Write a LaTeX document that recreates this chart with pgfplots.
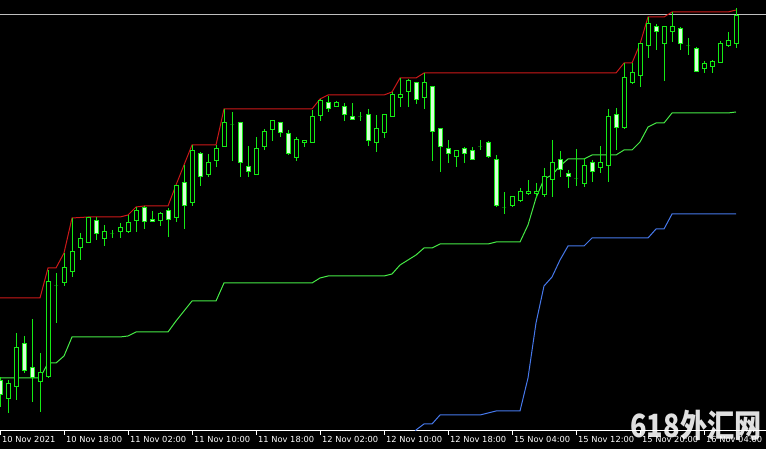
\documentclass[border=0pt]{standalone}
\usepackage{fontspec}
\setmainfont{DejaVu Sans}
\newfontfamily\cjk{Noto Sans CJK SC}
\usepackage{pgfplots}
\usepackage{pgfplotstable}
\pgfplotsset{compat=1.18}

\definecolor{cgreen}{RGB}{20,235,20}
\definecolor{bearfill}{RGB}{215,255,215}
\definecolor{upred}{RGB}{205,25,25}
\definecolor{midgreen}{RGB}{70,235,70}
\definecolor{lowblue}{RGB}{70,120,235}
\definecolor{bidgray}{RGB}{190,190,190}

% y = 431 - screen row, x = 8 px per hourly bar
\pgfplotstableread{
x o h l c
8 32 51 18 47
16 44 98 31 83
40 49 78 19 58
48 54 161 53 149
56 145 158 108 145
64 148 178 145 163
72 159 213 154 179
80 183 198 171 192
88 188 214 188 213
104 192 206 185 199
112 197 201 193 197
120 199 208 193 203
128 199 216 198 208
136 210 224 199 220
160 210 219 205 217
176 213 246 209 245
192 228 286 225 280
208 256 277 254 268
216 270 286 264 282
224 284 322 284 308
232 306 319 270 306
256 256 294 256 282
264 284 302 281 299
272 301 311 290 310
296 273 294 270 291
304 288 291 284 290
312 288 321 288 314
320 315 332 310 330
336 324 330 324 328
360 314 319 310 314
376 288 316 279 302
384 298 316 293 316
392 314 339 314 336
400 333 353 324 336
408 339 352 324 350
424 333 358 322 348
456 274 281 264 280
480 284 291 281 284
504 223 239 217 223
512 225 234 224 234
520 230 243 229 239
528 237 251 236 239
536 237 248 233 239
544 236 263 234 254
552 251 291 234 268
576 252 282 245 252
584 247 273 244 265
600 263 285 258 268
608 265 322 249 314
624 303 368 302 353
632 348 368 347 358
640 355 387 344 387
648 385 414 373 407
664 387 405 350 404
672 399 419 389 404
688 385 393 376 385
704 362 370 358 367
712 364 371 358 369
720 368 390 368 387
728 385 399 384 390
736 387 423 383 415
}\tabBull

\pgfplotstableread{
x o h l c
0 50 54 24 36
24 87 95 58 60
32 63 112 29 53
96 210 214 191 197
144 223 225 202 209
152 211 220 209 209
168 220 223 194 211
184 248 266 202 225
200 277 279 245 254
240 308 309 254 268
248 264 285 254 259
280 308 308 294 298
288 297 301 276 277
328 328 335 319 322
344 324 328 310 316
352 314 328 311 311
368 316 322 285 290
416 348 349 327 331
432 344 344 270 299
440 302 302 259 284
448 282 291 268 277
464 282 284 268 277
472 280 284 271 271
488 288 290 273 274
496 271 276 224 225
560 271 280 254 261
568 257 261 243 254
592 268 271 249 259
616 316 323 281 303
656 404 407 381 399
680 402 404 381 387
696 382 384 359 359
}\tabBear

\pgfplotstableread{
x y
0 133
40 133
48 163
56 163
64 178
72 213
88 214
120 214
128 216
136 224
144 225
168 225
176 246
184 266
192 286
216 286
224 322
312 322
320 332
328 336
384 336
392 339
400 353
416 353
424 358
616 358
624 368
632 368
640 387
648 414
664 414
672 419
728 419
736 421
}\tabUp

\pgfplotstableread{
x y
0 53
40 53
48 68
56 68
64 75
72 94
120 94
128 95
136 99
168 99
176 110
184 120
192 130
216 130
224 148
312 148
320 153
328 155
384 155
392 157
400 166
408 171
416 176
424 183
432 183
440 187
488 187
496 189
520 189
528 206
536 233
544 252
552 256
560 265
568 272
584 272
592 276
616 276
624 281
632 281
640 289
648 304
656 308
664 308
672 318
728 318
736 319
}\tabMid

\pgfplotstableread{
x y
408 -14
416 1
424 7
432 7
440 16
480 16
488 18
496 20
520 20
528 53
536 108
544 145
552 154
560 171
568 185
584 185
592 193
648 193
656 202
664 202
672 217
736 217
}\tabLow

% candle drawn around the open value, 1 data unit = 1pt
\pgfdeclareplotmark{candle}{%
  \pgfpathmoveto{\pgfpoint{0pt}{(\cH-\cO)*1pt}}%
  \pgfpathlineto{\pgfpoint{0pt}{(\cL-\cO)*1pt}}%
  \pgfusepathqstroke
  \pgfpathrectanglecorners{\pgfpoint{-2pt}{0pt}}{\pgfpoint{2pt}{(\cC-\cO)*1pt}}%
  \pgfusepathqfillstroke
}

\pgfplotsset{
  candles/.style={
    scatter, only marks, mark=candle,
    scatter/use mapped color={draw=cgreen, fill=#1},
    mark options={line width=1pt, solid},
    visualization depends on={\thisrow{o} \as \cO},
    visualization depends on={\thisrow{h} \as \cH},
    visualization depends on={\thisrow{l} \as \cL},
    visualization depends on={\thisrow{c} \as \cC},
  }
}

\begin{document}
\begin{tikzpicture}
\useasboundingbox (0,-18pt) rectangle (766pt,431pt);
\fill[black] (0,-18pt) rectangle (766pt,431pt);
\begin{axis}[
    scale only axis,
    width=766pt, height=431pt,
    xmin=0, xmax=766, ymin=0, ymax=431,
    axis x line=bottom, axis y line=none,
    x axis line style={-, white, line width=1pt},
    xtick={0,64,...,704},
    xticklabels={10 Nov 2021, 10 Nov 18:00, 11 Nov 02:00, 11 Nov 10:00,
        11 Nov 18:00, 12 Nov 02:00, 12 Nov 10:00, 12 Nov 18:00,
        15 Nov 04:00, 15 Nov 12:00, 15 Nov 20:00, 16 Nov 04:00},
    tick align=outside,
    major tick length=4pt,
    tick style={white, line width=1pt},
    xticklabel style={white, font=\fontsize{8.3}{10}\selectfont,
        anchor=north west, inner sep=0pt, xshift=2pt, yshift=-1pt},
    ytick=\empty,
]
\addplot[bidgray, line width=1pt] coordinates {(0,416) (766,416)};

\addplot[candles=black] table[x=x, y=o] {\tabBull};
\addplot[candles=bearfill] table[x=x, y=o] {\tabBear};

\addplot[upred, line width=1pt] table {\tabUp};
\addplot[midgreen, line width=1pt] table {\tabMid};
\addplot[lowblue, line width=1pt] table {\tabLow};
\end{axis}
\node[font=\cjk\bfseries\fontsize{32}{34}\selectfont, text=white, opacity=0.88,
    xscale=0.85] at (696pt,6pt) {618外汇网};
\end{tikzpicture}
\end{document}
